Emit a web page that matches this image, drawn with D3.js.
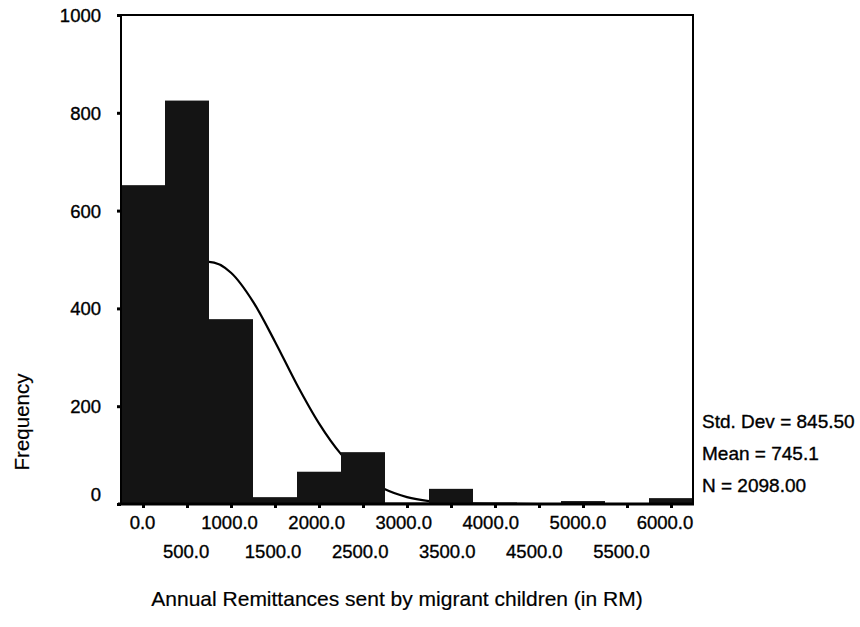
<!DOCTYPE html>
<html>
<head>
<meta charset="utf-8">
<script src="https://cdn.jsdelivr.net/npm/d3@7"></script>
<style>
  html, body { margin: 0; padding: 0; background: #fff; }
  svg { display: block; font-family: "Liberation Sans", Arial, sans-serif; }
  text { stroke: #000; stroke-width: 0.35px; }
</style>
</head>
<body>
<svg id="chart" width="860" height="627"></svg>
<script>
// Histogram bins (bin centres, width 500) and counts
const binCenters = [0, 500, 1000, 1500, 2000, 2500, 3000, 3500, 4000, 4500, 5000, 5500, 6000];
const counts     = [652, 825, 378, 14, 66, 106, 3, 31, 3, 1, 6, 1, 12];
const binWidth = 500;

// Fitted normal curve as drawn (x value, frequency)
const curveX = [-250, 0, 250, 500, 750, 1000, 1250, 1500, 1750, 2000, 2250, 2500, 2750, 3000, 3250, 3500, 3750, 4000, 4500, 5000, 5500, 6000, 6250];
const curveY = [248, 336, 417, 475, 495, 473, 414, 332, 244, 165, 102, 57, 30, 14, 6, 2.5, 1, 0.3, 0, 0, 0, 0, 0];

// Tick labels
const yTicks = [0, 200, 400, 600, 800, 1000];
const xTicks = [0, 500, 1000, 1500, 2000, 2500, 3000, 3500, 4000, 4500, 5000, 5500, 6000];

const statsLines = ["Std. Dev = 845.50", "Mean = 745.1", "N = 2098.00"];
const xTitle = "Annual Remittances sent by migrant children (in RM)";
const yTitle = "Frequency";

const svg = d3.select("#chart");
const L = 121, R = 693, T = 15, B = 504;
const FONT = "'Liberation Sans', Arial, sans-serif";

const x = d3.scaleLinear().domain([-250, 6250]).range([L, R]);
const xLab = d3.scaleLinear().domain([0, 6000]).range([142.5, 665]);
const y = d3.scaleLinear().domain([0, 1000]).range([B, T]);

// normal curve (drawn beneath the bars)
const line = d3.line()
  .x((d, i) => x(curveX[i]))
  .y(d => y(d))
  .curve(d3.curveMonotoneX);
svg.append("path")
  .attr("d", line(curveY))
  .attr("fill", "none")
  .attr("stroke", "#000")
  .attr("stroke-width", 2.2);

// bars
svg.append("g").selectAll("rect")
  .data(binCenters.map((c, i) => ({c, v: counts[i]})))
  .join("rect")
  .attr("x", d => x(d.c - binWidth / 2))
  .attr("width", d => x(d.c + binWidth / 2) - x(d.c - binWidth / 2))
  .attr("y", d => y(d.v))
  .attr("height", d => y(0) - y(d.v))
  .attr("fill", "#141414");

// frame
svg.append("rect")
  .attr("x", L).attr("y", T)
  .attr("width", R - L).attr("height", B - T)
  .attr("fill", "none").attr("stroke", "#000").attr("stroke-width", 2);
svg.append("line")
  .attr("x1", L - 3).attr("x2", R + 1).attr("y1", B).attr("y2", B)
  .attr("stroke", "#000").attr("stroke-width", 3);
svg.append("line")
  .attr("x1", L - 3).attr("x2", L).attr("y1", T).attr("y2", T)
  .attr("stroke", "#000").attr("stroke-width", 2);

// y axis
const yAxis = d3.axisLeft(y).tickValues(yTicks).tickSize(4).tickPadding(16).tickFormat(d3.format("d"));
const gy = svg.append("g").attr("transform", `translate(${L},0)`).call(yAxis);
gy.select(".domain").remove();
gy.selectAll(".tick line").attr("stroke", "#000").attr("stroke-width", 3);
gy.selectAll(".tick text")
  .attr("font-size", 18.5).attr("fill", "#000")
  .attr("font-family", FONT)
  .attr("dy", d => d === 0 ? "-0.2em" : "0.35em");

// x axis ticks
const xAxis = d3.axisBottom(x).tickValues(xTicks).tickSize(4).tickFormat("");
const gx = svg.append("g").attr("transform", `translate(0,${B})`).call(xAxis);
gx.select(".domain").remove();
gx.selectAll(".tick line").attr("stroke", "#000").attr("stroke-width", 3);

// x tick labels in two staggered rows
svg.append("g").selectAll("text")
  .data(xTicks)
  .join("text")
  .attr("x", d => xLab(d))
  .attr("y", (d, i) => i % 2 === 0 ? 529 : 558)
  .attr("text-anchor", "middle")
  .attr("font-size", 18.5)
  .attr("fill", "#000")
  .text(d => d3.format(".1f")(d));

// stats
svg.append("g").selectAll("text")
  .data(statsLines)
  .join("text")
  .attr("x", 702)
  .attr("y", (d, i) => [428, 460, 492][i])
  .attr("font-size", 19)
  .attr("fill", "#000")
  .text(d => d);

// titles
svg.append("text")
  .attr("x", 397).attr("y", 606)
  .attr("text-anchor", "middle")
  .attr("font-size", 21)
  .attr("fill", "#000")
  .style("stroke-width", "0.2px")
  .text(xTitle);

svg.append("text")
  .attr("transform", "translate(29,422) rotate(-90)")
  .attr("text-anchor", "middle")
  .attr("font-size", 20.5)
  .attr("fill", "#000")
  .style("stroke-width", "0.2px")
  .text(yTitle);
</script>
</body>
</html>
